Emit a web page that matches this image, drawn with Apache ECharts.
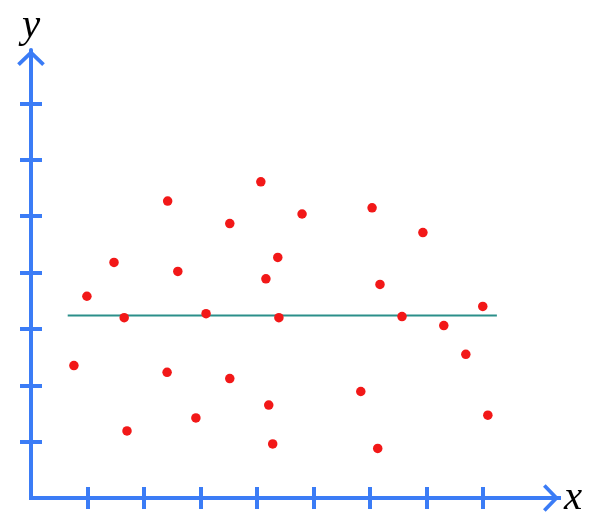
<!DOCTYPE html>
<html>
<head>
<meta charset="utf-8">
<script src="https://cdn.jsdelivr.net/npm/echarts@6/dist/echarts.min.js"></script>
<style>html,body{margin:0;padding:0;background:#fff;}#c{width:593px;height:523px;}</style>
</head>
<body>
<div id="c"></div>
<script>
var xValues = [0.99,1.47,2.42,2.60,1.65,3.10,3.52,4.07,4.37,4.16,4.39,4.80,6.04,6.94,6.18,6.57,7.31,8.00,0.76,2.41,3.52,4.21,2.92,1.70,4.28,7.70,5.84,8.09,6.14];
var yValues = [3.58,4.18,5.27,4.02,3.20,3.27,4.87,5.61,4.27,3.89,3.20,5.04,5.15,4.71,3.79,3.22,3.06,3.40,2.35,2.23,2.12,1.65,1.42,1.19,0.96,2.55,1.89,1.47,0.88];
var lineX = [0.65, 8.25];
var lineY = 3.24;
var xTicks = [1,2,3,4,5,6,7,8];
var yTicks = [1,2,3,4,5,6,7];
var xMax = 9.35, yMax = 7.95;

var blue = '#3b7cf6';
var chevron = 'path://M0 13.5 L14 0 L28 13.5 L25.3 16.2 L14 5.2 L2.7 16.2 Z';

var points = xValues.map(function(v,i){return [v, yValues[i]];});
var meanLine = lineX.map(function(v){return [v, lineY];});

var chart = echarts.init(document.getElementById('c'));
function mkX(main){
  return {
    type:'value', min:0, max:xMax, position:'bottom',
    name: main ? 'x' : '', nameLocation:'end', nameGap:5,
    nameTextStyle:{fontFamily:'Liberation Serif', fontStyle:'italic', fontSize:41, color:'#000', verticalAlign:'middle', align:'left', padding:[0,0,6,0]},
    axisLine:{show:main, lineStyle:{color:blue, width:4, cap:'square'}, symbol:['none', chevron], symbolSize:[28,16], symbolOffset:[0,-8]},
    axisTick:{show:true, inside:!main, length:11, customValues:xTicks, lineStyle:{color:blue, width:4}},
    axisLabel:{show:false}, splitLine:{show:false}
  };
}
function mkY(main){
  return {
    type:'value', min:0, max:yMax, position:'left',
    name: main ? 'y' : '', nameLocation:'end', nameGap:3,
    nameTextStyle:{fontFamily:'Liberation Serif', fontStyle:'italic', fontSize:41, color:'#000', align:'center', verticalAlign:'bottom'},
    axisLine:{show:main, lineStyle:{color:blue, width:4}, symbol:['none', chevron], symbolSize:[28,16], symbolOffset:[0,-8]},
    axisTick:{show:true, inside:!main, length:11, customValues:yTicks, lineStyle:{color:blue, width:4}},
    axisLabel:{show:false}, splitLine:{show:false}
  };
}
chart.setOption({
  animation:false,
  backgroundColor:'#fff',
  grid:{left:31, right:34, top:50, bottom:25, containLabel:false},
  xAxis:[mkX(true), mkX(false)],
  yAxis:[mkY(true), mkY(false)],
  series:[
    {type:'line', data:meanLine, symbol:'none', lineStyle:{color:'#2b8f8a', width:2}, z:2},
    {type:'scatter', data:points, symbolSize:9.5, itemStyle:{color:'#f21818', opacity:1}, z:3}
  ]
});
</script>
</body>
</html>
